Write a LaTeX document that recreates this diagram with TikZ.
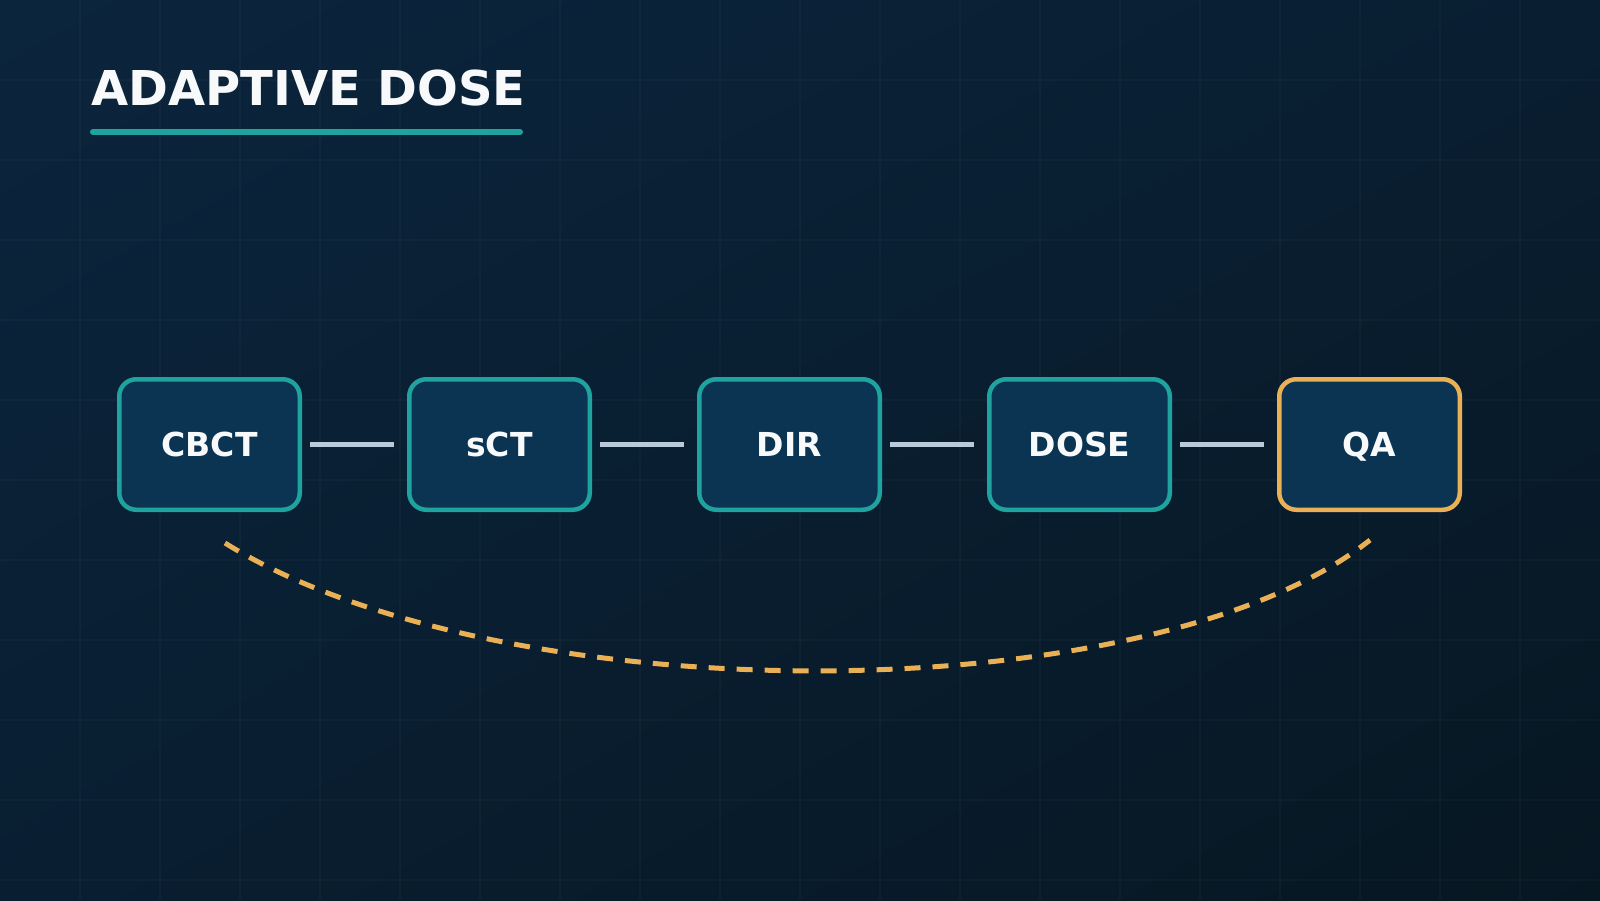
\documentclass[tikz,border=0pt]{standalone}
\usepackage{fontspec}
\setmainfont{DejaVu Sans}
\usetikzlibrary{calc,shadings}
\definecolor{bgA}{HTML}{0B253D}
\definecolor{bgB}{HTML}{091E31}
\definecolor{bgC}{HTML}{071722}
\definecolor{boxfill}{HTML}{0B3452}
\definecolor{tealc}{HTML}{1FA39E}
\definecolor{orangec}{HTML}{E9B055}
\definecolor{linkc}{HTML}{B9CADB}
\definecolor{textc}{HTML}{F7F9FB}
\tikzset{
  stepbox/.style={draw=tealc, line width=4.5pt, fill=boxfill, rounded corners=17pt,
    minimum width=180.5pt, minimum height=130.5pt, inner sep=0pt,
    text height=24pt, text depth=-1pt,
    font=\bfseries\fontsize{33}{33}\selectfont, text=textc},
  qabox/.style={stepbox, draw=orangec},
  link/.style={draw=linkc, line width=5pt, shorten <=8pt, shorten >=13pt},
  loopback/.style={draw=orangec, line width=5pt, dash pattern=on 16pt off 12pt},
  gridline/.style={draw=white, draw opacity=0.022, line width=1.5pt}
}
\begin{document}
\begin{tikzpicture}[x=1pt,y=-1pt]
\useasboundingbox (0,0) rectangle (1600,900);
\shade[upper left=bgA, upper right=bgB, lower left=bgB, lower right=bgC] (0,0) rectangle (1600,900);
\foreach \x in {80,160,...,1520} \draw[gridline] (\x,0) -- (\x,900);
\foreach \y in {80,160,...,880} \draw[gridline] (0,\y) -- (1600,\y);

\node[anchor=base west, inner sep=0pt, font=\bfseries\fontsize{48}{48}\selectfont, text=textc] (title) at (91,105) {ADAPTIVE DOSE};
\coordinate (ulA) at (93,132);
\coordinate (ulB) at (520,132);
\draw[tealc, line width=6pt, line cap=round] (ulA) -- (ulB);

\node[stepbox] (cbct) at (209.5,444.5) {CBCT};
\node[stepbox] (sct) at (499.5,444.5) {sCT};
\node[stepbox] (dir) at (789.5,444.5) {DIR};
\node[stepbox] (dose) at (1079.5,444.5) {DOSE};
\node[qabox] (qa) at (1369.5,444.5) {QA};

\draw[link] (cbct.east) -- (sct.west);
\draw[link] (sct.east) -- (dir.west);
\draw[link] (dir.east) -- (dose.west);
\draw[link] (dose.east) -- (qa.west);

\coordinate (fbS) at ($(cbct.south)+(15.5,31)$);
\coordinate (fbE) at ($(qa.south)+(0.5,28)$);
\draw[loopback] (fbS) .. controls ($(fbS)+(275,171)$) and ($(fbE)+(-220,174)$) .. (fbE);
\end{tikzpicture}
\end{document}
